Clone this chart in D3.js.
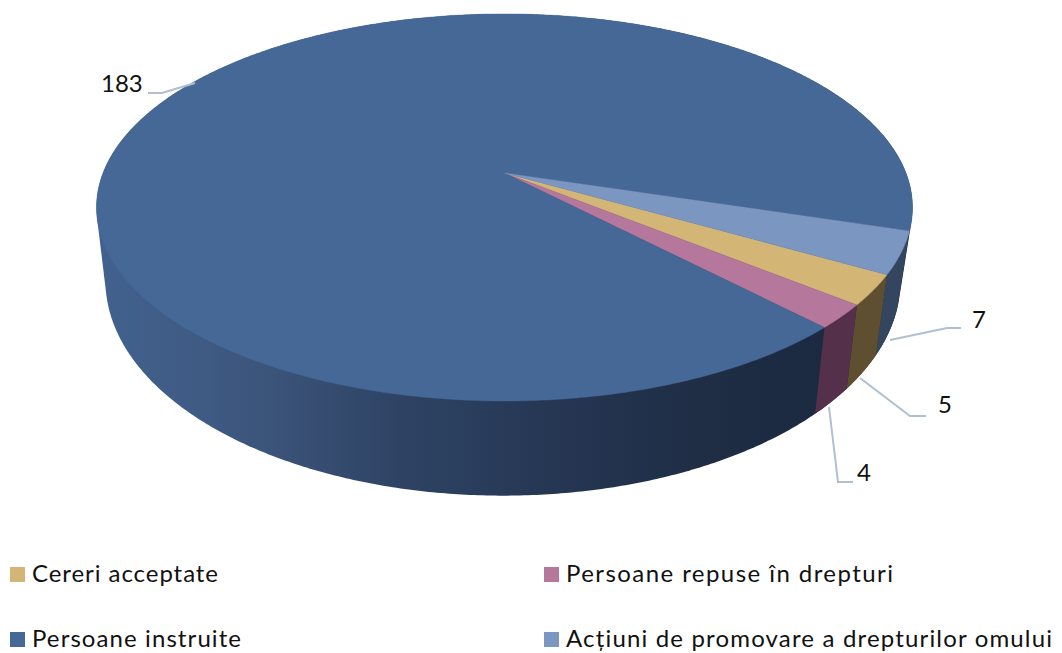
<!DOCTYPE html>
<html>
<head>
<meta charset="utf-8">
<script src="https://cdn.jsdelivr.net/npm/d3@7"></script>
<style>
  html, body { margin: 0; padding: 0; background: #fff; }
  text { font-family: Lato, "Open Sans", sans-serif; fill: #111; }
</style>
</head>
<body>
<svg width="1062" height="653"></svg>
<script>
var categories = ['Cereri acceptate', 'Persoane repuse în drepturi', 'Persoane instruite', 'Acțiuni de promovare a drepturilor omului'];
var values = [5, 4, 183, 7];
var topColors = ['#d3b676', '#b5779b', '#466897', '#7b96c1'];
var wallColors = ['#5f4f31', '#55304a', '#1c2a40', '#33455f'];
var legendWidths = [186, 327, 209, 486];

var svg = d3.select('svg');

// the rim of the disc, in perspective
var rimTop = {cx: 504.5, cy: 173, rx: 401.5, ry: 187.4, k: 0.178};
var rimBase = {cx: 503, cy: 242, rx: 391, ry: 208, k: 0.18};

function project(rim, a) {
  // a is a d3.pie angle, clockwise from 12 o'clock
  var c = Math.sin(a), s = -Math.cos(a);
  var w = 1 / (1 - rim.k * s);
  return [rim.cx + rim.rx * c * w, rim.cy + rim.ry * s * w];
}

var startDeg = 119.7;
var pie = d3.pie()
  .sort(null)
  .startAngle(startDeg * Math.PI / 180)
  .endAngle(startDeg * Math.PI / 180 + 2 * Math.PI);
var slices = pie(values);

var line = d3.line();
var step = Math.PI / 360;

function samples(d) {
  return d3.range(d.startAngle, d.endAngle, step).concat([d.endAngle]);
}

// the big wall gets darker towards the right
var wallStops = [
  [100, '#42618e'], [200, '#3f5b84'], [285, '#3a5277'], [400, '#2e4364'],
  [550, '#263754'], [700, '#1f2d45'], [820, '#1b2a40']
];
var grad = svg.append('defs').append('linearGradient')
  .attr('id', 'wallGrad')
  .attr('gradientUnits', 'userSpaceOnUse')
  .attr('x1', 100).attr('x2', 820)
  .attr('y1', 0).attr('y2', 0);
grad.selectAll('stop')
  .data(wallStops)
  .enter().append('stop')
  .attr('offset', function(d) { return (d[0] - 100) / 720; })
  .attr('stop-color', function(d) { return d[1]; });

// the outline of the whole disc comes from the hull of both rims
var rimPoints = [];
slices.forEach(function(d) {
  samples(d).forEach(function(a) {
    rimPoints.push(project(rimTop, a));
    rimPoints.push(project(rimBase, a));
  });
});
svg.append('path')
  .attr('d', line(d3.polygonHull(rimPoints)) + 'Z')
  .attr('fill', 'url(#wallGrad)');

// the small walls on top of it
var wallOrder = [3, 0, 1];
svg.append('g').selectAll('path')
  .data(wallOrder)
  .enter().append('path')
  .attr('d', function(i) {
    var angles = samples(slices[i]);
    var upper = angles.map(function(a) { return project(rimTop, a); });
    var lower = angles.slice().reverse().map(function(a) { return project(rimBase, a); });
    return line(upper.concat(lower)) + 'Z';
  })
  .attr('fill', function(i) { return wallColors[i]; });

// top face
svg.append('g').selectAll('path')
  .data(slices)
  .enter().append('path')
  .attr('d', function(d) {
    var pts = samples(d).map(function(a) { return project(rimTop, a); });
    return line([[rimTop.cx, rimTop.cy]].concat(pts)) + 'Z';
  })
  .attr('fill', function(d, i) { return topColors[i]; })
  .attr('stroke', function(d, i) { return topColors[i]; })
  .attr('stroke-width', 0.4);

// leader lines and value labels
var leaders = [
  [[860, 378], [910, 416], [926, 416]],
  [[829, 407], [838, 482], [853, 482]],
  [[195, 83], [162, 93], [148, 93]],
  [[890, 340], [947, 328], [961, 328]]
];
var labelPos = [[938, 413], [857, 481], [101, 92], [972, 328]];

svg.append('g').selectAll('path')
  .data(leaders)
  .enter().append('path')
  .attr('d', function(d) { return line(d); })
  .attr('fill', 'none')
  .attr('stroke', '#b0bfd2')
  .attr('stroke-width', 2);

svg.append('g').selectAll('text')
  .data(values)
  .enter().append('text')
  .attr('x', function(d, i) { return labelPos[i][0]; })
  .attr('y', function(d, i) { return labelPos[i][1]; })
  .attr('font-size', 24)
  .text(function(d) { return d; });

// legend
var legendX = d3.scaleOrdinal().domain([0, 1]).range([10, 544]);
var legendY = d3.scaleOrdinal().domain([0, 1]).range([582, 647]);
var legend = svg.append('g').selectAll('g')
  .data(categories)
  .enter().append('g')
  .attr('transform', function(d, i) {
    return 'translate(' + legendX(i % 2) + ',' + legendY(Math.floor(i / 2)) + ')';
  });

legend.append('rect')
  .attr('x', 0).attr('y', -15)
  .attr('width', 15).attr('height', 15)
  .attr('fill', function(d, i) { return topColors[i]; });

legend.append('text')
  .attr('x', 22).attr('y', 0)
  .attr('font-size', 24)
  .attr('textLength', function(d, i) { return legendWidths[i]; })
  .attr('lengthAdjust', 'spacing')
  .text(function(d) { return d; });
</script>
</body>
</html>
